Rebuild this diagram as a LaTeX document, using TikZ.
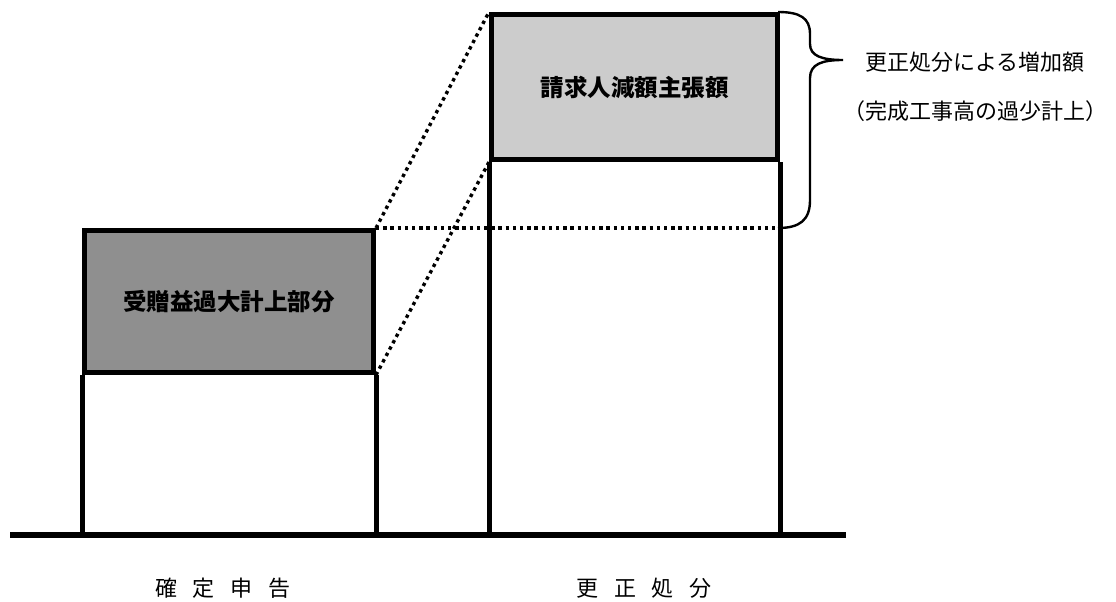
\documentclass[tikz,border=0pt]{standalone}
\usepackage{fontspec}
\newfontfamily\jp{Noto Sans CJK JP}[BoldFont={Noto Sans CJK JP Black}]
\definecolor{darkshade}{gray}{0.56}
\definecolor{lightshade}{gray}{0.80}
\begin{document}
\begin{tikzpicture}[x=1pt, y=-1pt,
  bar/.style={line width=5pt},
  shadebox/.style={draw, line width=5pt, inner sep=0pt, anchor=north west,
    font=\jp\bfseries\fontsize{23.5}{26}\selectfont},
  dots/.style={line width=3.4pt, dash pattern=on 3.4pt off 3.8pt},
  lbl/.style={font=\jp\fontsize{22}{26}\selectfont},
  undertxt/.style={font=\jp\fontsize{22}{26}\selectfont}
]
\useasboundingbox (0,0) rectangle (1116,602);
% ground line
\coordinate (bl) at (10,535);
\coordinate (br) at (846,535);
\draw[line width=6pt] (bl) -- (br);
% shaded parts
\node[shadebox, fill=darkshade, minimum width=289pt, minimum height=142pt] (kshade) at (82,228) {受贈益過大計上部分};
\node[shadebox, fill=lightshade, minimum width=286pt, minimum height=145pt] (sshade) at (489,12) {請求人減額主張額};
% lower parts of the bars
\draw[bar] (kshade.south west) -- (kshade.south west |- bl);
\draw[bar] (kshade.south east) -- (kshade.south east |- bl);
\draw[bar] (sshade.south west) -- (sshade.south west |- bl);
\draw[bar] (sshade.south east) -- (sshade.south east |- bl);
% dotted guides
\coordinate (bb) at (778,228);
\coordinate (bt) at (778,12);
\draw[dots] (kshade.north east) -- (sshade.north west);
\draw[dots] (kshade.south east) -- (sshade.south west);
\draw[dots] (kshade.north east) -- (bb);
% brace
\coordinate (tip) at (843,60);
\draw[line width=2.4pt] (bt) .. controls (800,12) and (810,18) .. (810,34)
  -- (810,44) .. controls (810,56) and (822,60) .. (tip)
  .. controls (822,60) and (810,64) .. (810,78)
  -- (810,200) .. controls (810,220) and (800,228) .. (bb);
% labels
\node[lbl, anchor=west] (inc) at (862,62) {更正処分による増加額};
\node[lbl] (why) at (975,111) {（完成工事高の過少計上）};
\node[undertxt] (kakutei) at (223,588) {確\hspace{16pt}定\hspace{16pt}申\hspace{16pt}告};
\node[undertxt] (kousei) at (644,588) {更\hspace{16pt}正\hspace{16pt}処\hspace{16pt}分};
\end{tikzpicture}
\end{document}
